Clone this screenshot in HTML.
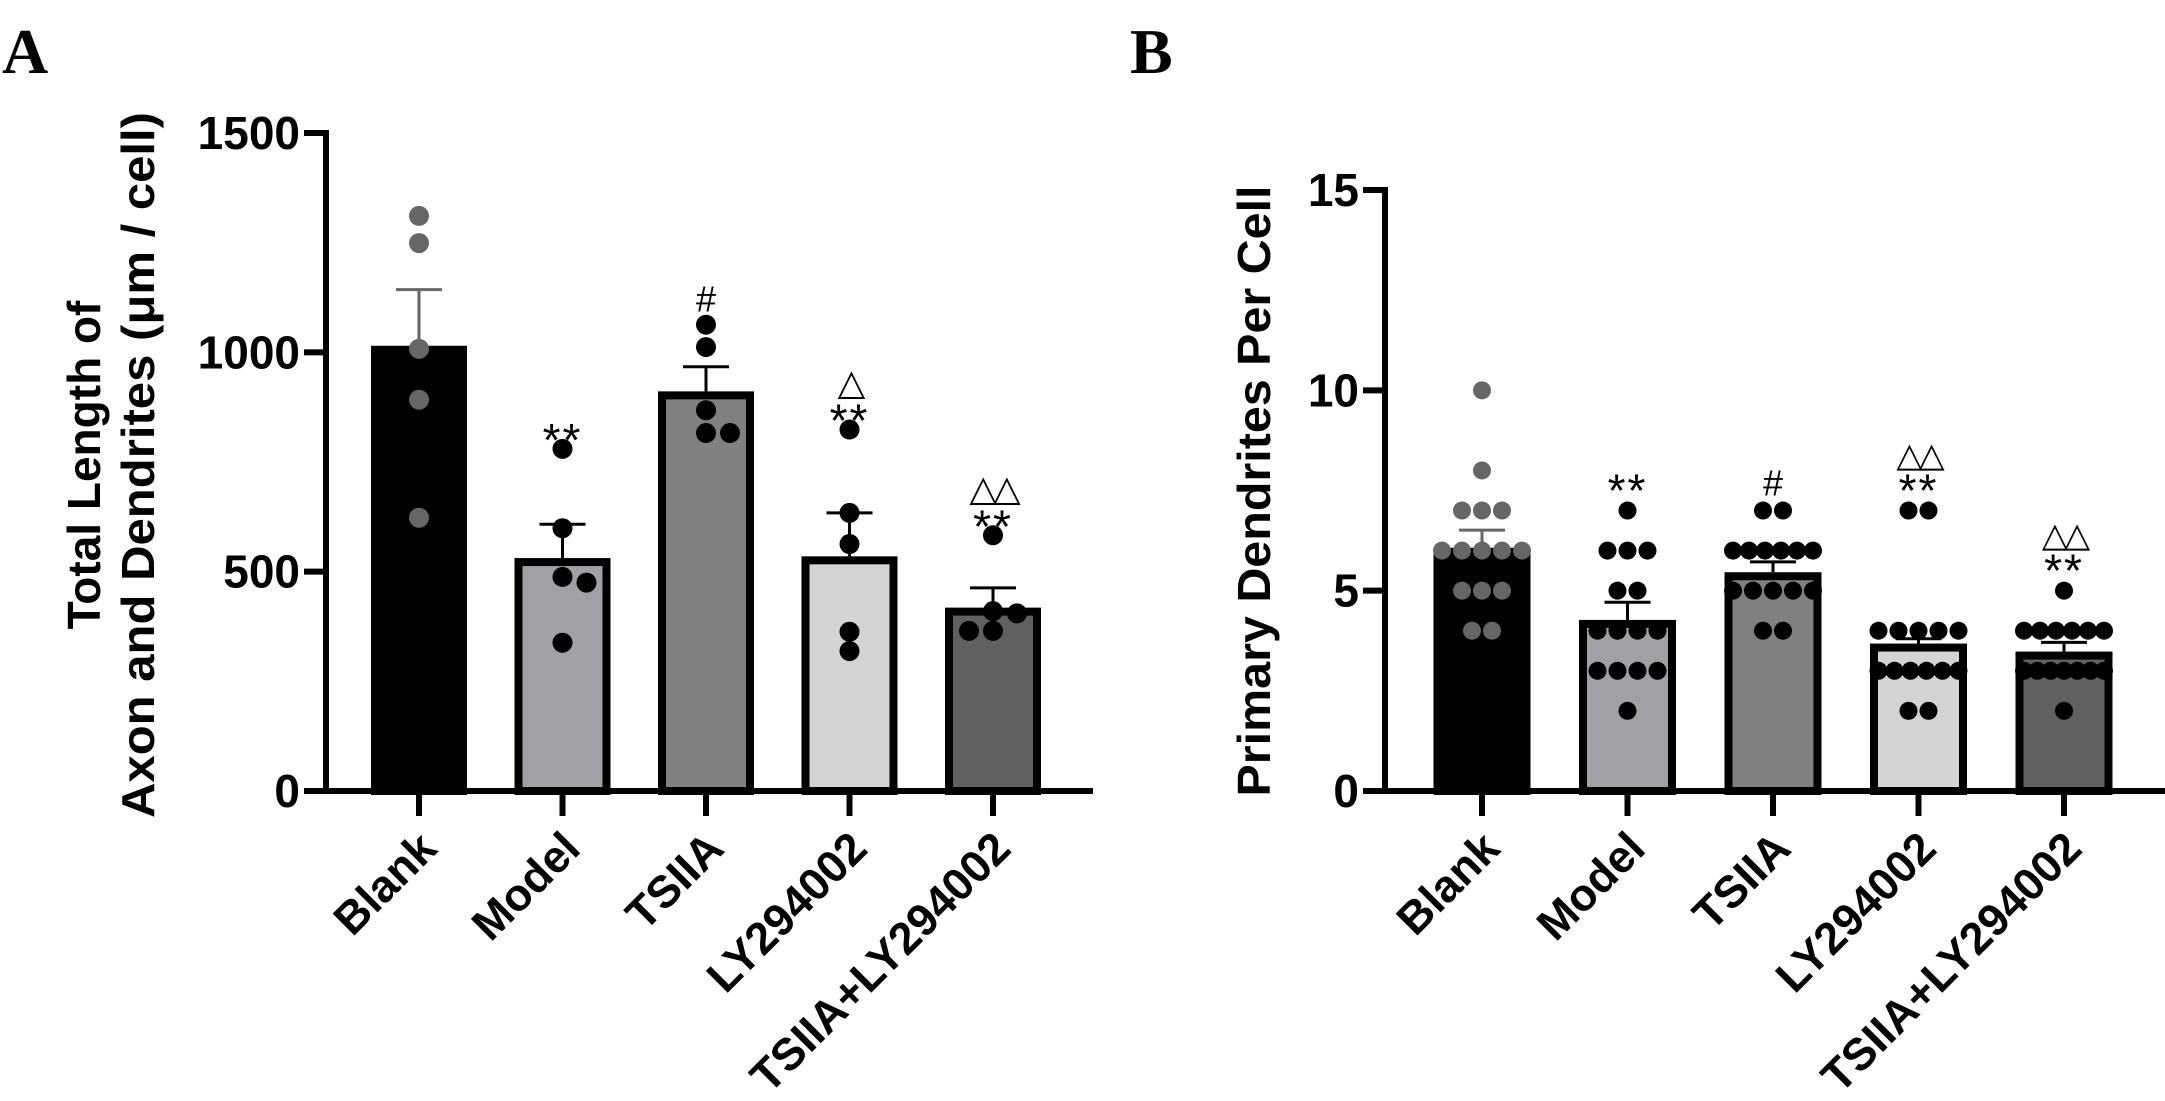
<!DOCTYPE html>
<html><head><meta charset="utf-8">
<style>
html,body{margin:0;padding:0;background:#fff;}
svg{display:block;font-family:"Liberation Sans",Arial,sans-serif;}
</style></head>
<body>
<svg id="chart" width="2165" height="1101" viewBox="0 0 2165 1101" xmlns="http://www.w3.org/2000/svg">
<text x="2" y="73" font-family="Liberation Serif, serif" font-weight="bold" font-size="64">A</text>
<text x="1130" y="73" font-family="Liberation Serif, serif" font-weight="bold" font-size="64">B</text>
<g id="pa"></g>
<g id="pb"></g>
</svg>
<script>
const categories = ["Blank","Model","TSIIA","LY294002","TSIIA+LY294002"];
const fills = ["#000000","#a0a1a5","#808080","#d4d4d4","#606060"];
// Panel A data
const aMeans = [1015,531,911,535,418];
const aSEM = [128,77,56,99,45];
const aPoints = [[1311,1249,1008,892,623],[780,599,488,475,338],[1063,1012,868,816,816],[824,634,563,363,319],[583,410,405,365,365]];
const aAnnotStar = ["","**","","**","**"];
const aAnnotHash = ["","","#","",""];
const aAnnotTri = ["","","","△","△△"];
const aTicks = [0,500,1000,1500];
// Panel B data
const bMeans = [6.07,4.27,5.46,3.68,3.48];
const bSEM = [0.44,0.44,0.26,0.12,0.23];
const bPoints = [[10,8,7,7,7,6,6,6,6,6,5,5,5,4,4],[7,6,6,6,5,5,4,4,4,4,3,3,3,3,2],[7,7,6,6,6,6,6,6,5,5,5,5,5,4,4],[7,7,4,4,4,4,4,3,3,3,3,3,3,2,2],[5,4,4,4,4,4,4,3,3,3,3,3,3,3,2]];
const bAnnotStar = ["","**","","**","**"];
const bAnnotHash = ["","","#","",""];
const bAnnotTri = ["","","","△△","△△"];
const bTicks = [0,5,10,15];

const NS="http://www.w3.org/2000/svg";
function mk(parent,tag,attrs,text){const e=document.createElementNS(NS,tag);for(const k in attrs)e.setAttribute(k,attrs[k]);if(text!==undefined)e.textContent=text;parent.appendChild(e);return e;}

function panel(g,cfg){
  const y=v=>cfg.y0-(v-cfg.vmin)/(cfg.vmax-cfg.vmin)*(cfg.y0-cfg.y1);
  const x=i=>cfg.x0+i*cfg.step;
  cfg.means.forEach((m,i)=>{
    const r=mk(g,'rect',{x:x(i)-cfg.bw/2+4,y:y(m)+4,width:cfg.bw-8,height:Math.max(0,y(0)-y(m)-4),fill:fills[i],stroke:'#000','stroke-width':8});
    
    
  });
  cfg.means.forEach((m,i)=>{
    const c=i===0?'#666':'#000';
    const eg=mk(g,'g',{stroke:c,'stroke-width':3});
    
    
    mk(eg,'line',{x1:x(i),x2:x(i),y1:y(m),y2:y(m+cfg.sem[i])});
    mk(eg,'line',{x1:x(i)-23,x2:x(i)+23,y1:y(m+cfg.sem[i]),y2:y(m+cfg.sem[i])});
  });
  cfg.points.forEach((pts,i)=>{
    const col=i===0?'#666':'#000';
    const placed=[];
    if(cfg.grouped){
      const counts={};pts.forEach(v=>counts[v]=(counts[v]||0)+1);
      Object.keys(counts).forEach(k=>{
        const n=counts[k];const s=n>1?Math.min(20,80/(n-1)):0;
        for(let j=0;j<n;j++)placed.push([x(i)+(j-(n-1)/2)*s,y(+k)]);
      });
    } else {
      pts.forEach(v=>{
        const py=y(v);let off=0,k=0;
        const coll=o=>placed.some(p=>Math.hypot(p[0]-(x(i)+o),p[1]-py)<18);
        while(coll(off)){k++;off=(k%2?1:-1)*Math.ceil(k/2)*12;}
        placed.push([x(i)+off,py]);
      });
    }
    placed.forEach(p=>{
      const c=mk(g,'circle',{cx:p[0],cy:p[1],r:cfg.r,fill:col});
      
      
    });
    const top=Math.min(...pts.map(v=>y(v)));
    if(cfg.star[i]){const t=mk(g,'text',{x:x(i),y:top+cfg.starOff,'text-anchor':'middle','font-size':46,'letter-spacing':'2'},cfg.star[i]);
      }
    if(cfg.hash[i]){const t=mk(g,'text',{x:x(i),y:top+cfg.hashOff,'text-anchor':'middle','font-size':36},cfg.hash[i]);
      }
    if(cfg.tri[i]){const t=mk(g,'text',{x:x(i),y:top+cfg.triOff,'text-anchor':'middle','font-size':cfg.triSize,'font-family':'DejaVu Sans, sans-serif','letter-spacing':'-4'},cfg.tri[i]);
      }
  });
  const ax=mk(g,'g',{stroke:'#000','stroke-width':6,fill:'none'});
  
  
  mk(ax,'line',{x1:cfg.ax,x2:cfg.ax,y1:y(cfg.vmax)-3,y2:y(0)+3});
  mk(ax,'line',{x1:cfg.ax-3,x2:cfg.xend,y1:y(0),y2:y(0)});
  cfg.ticks.forEach(t=>{
    mk(ax,'line',{x1:cfg.ax-22,x2:cfg.ax,y1:y(t),y2:y(t)});
    const l=mk(g,'text',{x:cfg.ax-26,y:y(t)+16,'text-anchor':'end','font-size':46,'font-weight':'bold'},t);
    
    
  });
  categories.forEach((c,i)=>{
    mk(ax,'line',{x1:x(i),x2:x(i),y1:y(0),y2:y(0)+25});
    const l=mk(g,'text',{transform:`translate(${x(i)+20},${y(0)+60}) rotate(-45)`,'text-anchor':'end','font-size':45,'font-weight':'bold'},c);
    
    
  });
}

panel(document.getElementById('pa'),{vmin:0,vmax:1500,y0:791,y1:133,x0:419,step:143.5,bw:96,ax:326,xend:1093,r:10,
  means:aMeans,sem:aSEM,points:aPoints,ticks:aTicks,star:aAnnotStar,hash:aAnnotHash,tri:aAnnotTri,grouped:false,starOff:7,hashOff:-13,triOff:-35,triSize:36});
panel(document.getElementById('pb'),{vmin:0,vmax:15,y0:791,y1:190,x0:1482,step:145.5,bw:97,ax:1385,xend:2165,r:9,
  means:bMeans,sem:bSEM,points:bPoints,ticks:bTicks,star:bAnnotStar,hash:bAnnotHash,tri:bAnnotTri,grouped:true,starOff:-4,hashOff:-15,triOff:-44,triSize:34});

const pa=document.getElementById('pa');
const t1=mk(pa,'text',{transform:'translate(100,465) rotate(-90)','text-anchor':'middle','font-size':46,'font-weight':'bold'},'Total Length of');


const t2=mk(pa,'text',{transform:'translate(154,465) rotate(-90)','text-anchor':'middle','font-size':46,'font-weight':'bold',textLength:706,lengthAdjust:'spacingAndGlyphs'},'Axon and Dendrites (μm / cell)');


const pb=document.getElementById('pb');
const t3=mk(pb,'text',{transform:'translate(1270,491) rotate(-90)','text-anchor':'middle','font-size':46,'font-weight':'bold',textLength:611,lengthAdjust:'spacingAndGlyphs'},'Primary Dendrites Per Cell');


</script>
</body></html>
